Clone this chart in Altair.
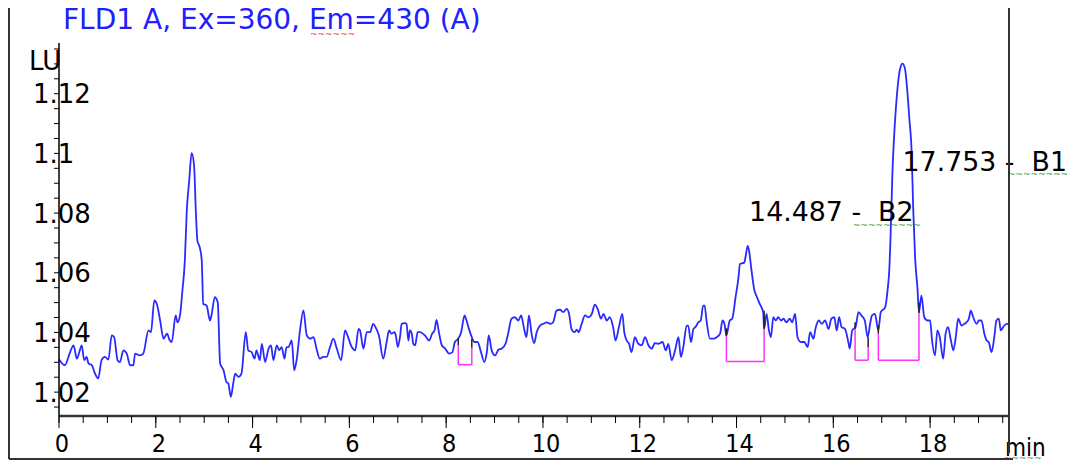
import altair as alt
import pandas as pd

# ---------------- data ----------------
time_min = [
    0.00, 0.12, 0.23, 0.30, 0.37, 0.43, 0.47, 0.52, 0.57, 0.61, 0.68, 0.73, 0.78, 0.81, 0.88, 0.95,
    1.02, 1.09, 1.14, 1.21, 1.26, 1.33, 1.40, 1.47, 1.54, 1.57, 1.67, 1.74, 1.85, 1.90, 1.97,
    2.02, 2.09, 2.16, 2.23, 2.29, 2.33, 2.41, 2.45, 2.50, 2.55, 2.60, 2.64, 2.69, 2.74, 2.79,
    2.83, 2.86, 2.91, 2.95, 2.98, 3.05, 3.12, 3.15, 3.22, 3.28, 3.33, 3.40, 3.46, 3.50, 3.55,
    3.60, 3.64, 3.71, 3.77, 3.86, 3.91, 3.98, 4.04, 4.08, 4.15, 4.19, 4.26, 4.33, 4.38, 4.43,
    4.50, 4.55, 4.60, 4.66, 4.70, 4.74, 4.81, 4.86, 4.91, 4.98, 5.05, 5.12, 5.19, 5.26, 5.32,
    5.39, 5.46, 5.53, 5.60, 5.67, 5.74, 5.83, 5.91, 5.96, 6.05, 6.12, 6.19, 6.22, 6.29, 6.36,
    6.43, 6.49, 6.54, 6.61, 6.70, 6.77, 6.82, 6.87, 6.93, 6.96, 7.00, 7.05, 7.08, 7.15, 7.18,
    7.22, 7.25, 7.29, 7.32, 7.36, 7.41, 7.46, 7.56, 7.65, 7.71, 7.76, 7.80, 7.85, 7.91, 7.98,
    8.06, 8.13, 8.18, 8.25, 8.31, 8.38, 8.42, 8.47, 8.53, 8.58, 8.65, 8.72, 8.79, 8.84, 8.88,
    8.94, 9.01, 9.08, 9.15, 9.23, 9.28, 9.35, 9.42, 9.49, 9.55, 9.61, 9.66, 9.71, 9.77, 9.82,
    9.87, 9.94, 10.01, 10.08, 10.15, 10.21, 10.28, 10.35, 10.42, 10.49, 10.54, 10.59, 10.65,
    10.70, 10.74, 10.80, 10.87, 10.94, 11.01, 11.07, 11.13, 11.20, 11.25, 11.32, 11.38, 11.45,
    11.50, 11.57, 11.64, 11.68, 11.73, 11.78, 11.83, 11.90, 11.97, 12.04, 12.11, 12.18, 12.25,
    12.31, 12.38, 12.47, 12.54, 12.59, 12.66, 12.73, 12.80, 12.85, 12.90, 12.97, 13.00, 13.06,
    13.11, 13.15, 13.21, 13.26, 13.31, 13.34, 13.38, 13.45, 13.52, 13.59, 13.66, 13.71, 13.75,
    13.79, 13.86, 13.91, 13.98, 14.04, 14.07, 14.10, 14.16, 14.19, 14.23, 14.26, 14.31, 14.37,
    14.41, 14.48, 14.55, 14.57, 14.62, 14.67, 14.71, 14.76, 14.81, 14.86, 14.92, 14.97, 15.03,
    15.10, 15.15, 15.21, 15.26, 15.33, 15.40, 15.47, 15.52, 15.59, 15.63, 15.70, 15.76, 15.83,
    15.90, 15.96, 16.02, 16.07, 16.12, 16.17, 16.24, 16.31, 16.34, 16.39, 16.46, 16.52, 16.58,
    16.65, 16.71, 16.76, 16.80, 16.86, 16.93, 16.98, 17.07, 17.12, 17.16, 17.18, 17.22, 17.27,
    17.32, 17.38, 17.43, 17.48, 17.53, 17.57, 17.62, 17.65, 17.69, 17.74, 17.77, 17.82, 17.88,
    17.95, 18.00, 18.04, 18.10, 18.15, 18.20, 18.27, 18.32, 18.37, 18.43, 18.48, 18.53, 18.58,
    18.65, 18.71, 18.75, 18.80, 18.84, 18.89, 18.96, 19.01, 19.06, 19.12, 19.17, 19.21, 19.27,
    19.33, 19.37, 19.42, 19.46, 19.51, 19.58, 19.63,
]
signal_lu = [
    1.0310, 1.0290, 1.0334, 1.0357, 1.0312, 1.0340, 1.0357, 1.0307, 1.0318, 1.0296, 1.0290, 1.0268, 1.0251, 1.0246, 1.0307, 1.0318,
    1.0309, 1.0390, 1.0384, 1.0307, 1.0301, 1.0340, 1.0329, 1.0290, 1.0290, 1.0329, 1.0323, 1.0329, 1.0407, 1.0401, 1.0507,
    1.0496, 1.0440, 1.0379, 1.0396, 1.0373, 1.0368, 1.0457, 1.0434, 1.0457, 1.0540, 1.0640, 1.0807, 1.0907, 1.1001, 1.0962,
    1.0796, 1.0707, 1.0684, 1.0640, 1.0496, 1.0490, 1.0440, 1.0457, 1.0518, 1.0501, 1.0296, 1.0273, 1.0234, 1.0229, 1.0184,
    1.0229, 1.0262, 1.0251, 1.0262, 1.0401, 1.0340, 1.0334, 1.0312, 1.0340, 1.0307, 1.0362, 1.0301, 1.0346, 1.0357, 1.0307,
    1.0357, 1.0340, 1.0351, 1.0312, 1.0351, 1.0351, 1.0373, 1.0273, 1.0307, 1.0407, 1.0474, 1.0390, 1.0379, 1.0384, 1.0346,
    1.0312, 1.0318, 1.0318, 1.0351, 1.0379, 1.0346, 1.0307, 1.0407, 1.0390, 1.0351, 1.0340, 1.0412, 1.0407, 1.0346, 1.0401,
    1.0401, 1.0429, 1.0418, 1.0390, 1.0312, 1.0368, 1.0407, 1.0396, 1.0401, 1.0390, 1.0351, 1.0390, 1.0429, 1.0431, 1.0429,
    1.0373, 1.0407, 1.0396, 1.0362, 1.0357, 1.0401, 1.0401, 1.0390, 1.0373, 1.0396, 1.0407, 1.0442, 1.0401, 1.0357, 1.0346,
    1.0329, 1.0334, 1.0368, 1.0379, 1.0401, 1.0457, 1.0440, 1.0412, 1.0384, 1.0368, 1.0368, 1.0334, 1.0301, 1.0334, 1.0390,
    1.0340, 1.0323, 1.0342, 1.0346, 1.0364, 1.0396, 1.0446, 1.0451, 1.0440, 1.0457, 1.0412, 1.0384, 1.0457, 1.0390, 1.0364,
    1.0401, 1.0423, 1.0429, 1.0434, 1.0429, 1.0434, 1.0473, 1.0476, 1.0468, 1.0479, 1.0462, 1.0412, 1.0401,
    1.0409, 1.0401, 1.0429, 1.0457, 1.0451, 1.0462, 1.0493, 1.0479, 1.0446, 1.0462, 1.0440, 1.0451, 1.0418,
    1.0373, 1.0418, 1.0462, 1.0401, 1.0373, 1.0362, 1.0334, 1.0384, 1.0362, 1.0357, 1.0384, 1.0357, 1.0346,
    1.0364, 1.0362, 1.0368, 1.0340, 1.0362, 1.0307, 1.0340, 1.0384, 1.0318, 1.0351, 1.0423, 1.0423, 1.0368,
    1.0412, 1.0418, 1.0434, 1.0440, 1.0490, 1.0490, 1.0440, 1.0379, 1.0379, 1.0384, 1.0396, 1.0440, 1.0429,
    1.0390, 1.0440, 1.0446, 1.0518, 1.0584, 1.0629, 1.0631, 1.0634, 1.0657, 1.0690, 1.0673, 1.0607, 1.0540,
    1.0523, 1.0496, 1.0468, 1.0412, 1.0462, 1.0407, 1.0384, 1.0451, 1.0440, 1.0451, 1.0440, 1.0446, 1.0434,
    1.0446, 1.0434, 1.0462, 1.0384, 1.0368, 1.0368, 1.0351, 1.0401, 1.0379, 1.0412, 1.0440, 1.0429, 1.0440,
    1.0412, 1.0446, 1.0451, 1.0407, 1.0451, 1.0418, 1.0412, 1.0368, 1.0346, 1.0407, 1.0418, 1.0468, 1.0457,
    1.0440, 1.0384, 1.0429, 1.0457, 1.0462, 1.0407, 1.0468, 1.0484, 1.0540, 1.0620, 1.0707, 1.0929, 1.1096,
    1.1207, 1.1284, 1.1301, 1.1284, 1.1207, 1.1118, 1.0996, 1.0818, 1.0650, 1.0545, 1.0468, 1.0523, 1.0451,
    1.0440, 1.0440, 1.0373, 1.0323, 1.0407, 1.0384, 1.0312, 1.0396, 1.0418, 1.0373, 1.0340, 1.0384, 1.0446,
    1.0423, 1.0429, 1.0434, 1.0446, 1.0473, 1.0451, 1.0429, 1.0440, 1.0440, 1.0396, 1.0373, 1.0368, 1.0334,
    1.0390, 1.0440, 1.0446, 1.0407, 1.0418, 1.0429, 1.0429,
]

# integration baselines (start / end of each peak window)
bl_start = [8.25, 13.79, 16.45, 16.93]
bl_end = [8.53, 14.57, 16.72, 17.77]
bl_floor = [1.0292, 1.0303, 1.0307, 1.0307]
bl_left_mag = [1.0357, 1.0387, 1.0412, 1.0396]
bl_left_top = [1.0381, 1.0414, 1.0434, 1.0423]
bl_right_mag = [1.0349, 1.0412, 1.0351, 1.0465]
bl_right_top = [1.0379, 1.0473, 1.0384, 1.0500]

# peak annotations
NB = "\u00a0"
peak_labels = ["17.753" + NB + "-" + NB + NB + "B1", "14.487" + NB + "-" + NB + NB + "B2"]
peak_label_time = [17.43, 14.26]
peak_label_lu = [1.0940, 1.0773]

# axis ticks and tick labels
x_ticks = [0, 0.5, 1, 1.5, 2, 2.5, 3, 3.5, 4, 4.5, 5, 5.5, 6, 6.5, 7, 7.5, 8, 8.5, 9, 9.5,
           10, 10.5, 11, 11.5, 12, 12.5, 13, 13.5, 14, 14.5, 15, 15.5, 16, 16.5, 17, 17.5,
           18, 18.5, 19, 19.5]
x_major = [0, 2, 4, 6, 8, 10, 12, 14, 16, 18]
x_major_labels = ["0", "2", "4", "6", "8", "10", "12", "14", "16", "18"]
y_ticks = [1.015, 1.02, 1.025, 1.03, 1.035, 1.04, 1.045, 1.05, 1.055, 1.06, 1.065, 1.07,
           1.075, 1.08, 1.085, 1.09, 1.095, 1.1, 1.105, 1.11, 1.115, 1.12, 1.125, 1.13, 1.135]
y_major = [1.02, 1.04, 1.06, 1.08, 1.1, 1.12]
y_major_labels = ["1.02", "1.04", "1.06", "1.08", "1.1", "1.12"]

title_text = "FLD1 A, Ex=360, Em=430 (A)"
x_unit = "min"
y_unit = "LU"

# ---------------- chart ----------------
W, H = 950, 373
xs = alt.Scale(domain=[0, 19.63], nice=False, zero=False)
ys = alt.Scale(domain=[1.012, 1.137], nice=False, zero=False)


def X(field):
    return alt.X(field, type="quantitative", scale=xs, axis=None)


def Y(field):
    return alt.Y(field, type="quantitative", scale=ys, axis=None)


one = pd.DataFrame({"k": [0]})
trace_df = pd.DataFrame({"t": time_min, "v": signal_lu})

trace = alt.Chart(trace_df).mark_line(
    color="#2a2aff", strokeWidth=1.8, interpolate="monotone"
).encode(x=X("t"), y=Y("v"))

# --- axes drawn by hand from the tick arrays ---
x_band = alt.Chart(one).mark_rule(color="#cfcfcf", strokeWidth=4).encode(
    x=alt.value(0), x2=alt.value(W), y=alt.value(H))
x_dom = alt.Chart(one).mark_rule(color="black", strokeWidth=1.3).encode(
    x=alt.value(0), x2=alt.value(W), y=alt.value(H))
y_dom = alt.Chart(one).mark_rule(color="black", strokeWidth=1.5).encode(
    x=alt.value(0), y=alt.value(0), y2=alt.value(H))
x_minor = alt.Chart(pd.DataFrame({"t": x_ticks})).mark_rule(color="black", strokeWidth=1).encode(
    x=X("t"), y=alt.value(H), y2=alt.value(H + 7))
x_maj = alt.Chart(pd.DataFrame({"t": x_major})).mark_rule(color="black", strokeWidth=1).encode(
    x=X("t"), y=alt.value(H), y2=alt.value(H + 12))
y_tk = alt.Chart(pd.DataFrame({"v": y_ticks})).mark_rule(color="black", strokeWidth=1).encode(
    y=Y("v"), x=alt.value(-5), x2=alt.value(0))
x_lab = alt.Chart(pd.DataFrame({"t": x_major, "lab": x_major_labels})).mark_text(
    align="center", baseline="alphabetic", dx=3,
    font="Liberation Sans Narrow, DejaVu Sans Condensed, Liberation Sans", fontSize=25, color="black"
).encode(x=X("t"), y=alt.value(H + 36), text="lab:N")
y_lab = alt.Chart(pd.DataFrame({"v": y_major, "lab": y_major_labels})).mark_text(
    align="left", baseline="alphabetic", dy=9.5,
    font="DejaVu Sans", fontSize=26, color="black"
).encode(y=Y("v"), x=alt.value(-26), text="lab:N")

# --- integration baselines ---
bl_df = pd.DataFrame({"s": bl_start, "e": bl_end, "f": bl_floor,
                      "lm": bl_left_mag, "lt": bl_left_top,
                      "rm": bl_right_mag, "rt": bl_right_top})
mag = "#ff30ff"
bl_bottom = alt.Chart(bl_df).mark_rule(color=mag, strokeWidth=1.5).encode(
    x=X("s"), x2="e", y=Y("f"))
bl_left = alt.Chart(bl_df).mark_rule(color=mag, strokeWidth=1.5).encode(
    x=X("s"), y=Y("f"), y2="lm")
bl_right = alt.Chart(bl_df).mark_rule(color=mag, strokeWidth=1.5).encode(
    x=X("e"), y=Y("f"), y2="rm")
bl_left_k = alt.Chart(bl_df).mark_rule(color="#222222", strokeWidth=1.5).encode(
    x=X("s"), y=Y("lm"), y2="lt")
bl_right_k = alt.Chart(bl_df).mark_rule(color="#222222", strokeWidth=1.5).encode(
    x=X("e"), y=Y("rm"), y2="rt")

labels = alt.Chart(pd.DataFrame({"t": peak_label_time, "v": peak_label_lu, "txt": peak_labels})).mark_text(
    align="left", baseline="alphabetic", font="DejaVu Sans", fontSize=26.8, color="black"
).encode(x=X("t"), y=Y("v"), text="txt:N")

title = alt.Chart(one).mark_text(
    text=title_text, align="left", baseline="alphabetic",
    font="DejaVu Sans", fontSize=28, color="#2020ff"
).encode(x=alt.value(4), y=alt.value(-14.5))
lu = alt.Chart(one).mark_text(
    text=y_unit, align="left", baseline="middle", font="DejaVu Sans", fontSize=26, color="black"
).encode(x=alt.value(-30), y=alt.value(18.5))
mn = alt.Chart(one).mark_text(
    text=x_unit, align="left", baseline="alphabetic",
    font="Liberation Sans Narrow, DejaVu Sans Condensed, Liberation Sans", fontSize=24, color="black"
).encode(x=alt.value(946), y=alt.value(413))


def squiggle(n, px, py, color):
    return alt.Chart(one).mark_text(
        text="~" * n, align="left", baseline="middle", font="DejaVu Sans",
        fontSize=9, color=color
    ).encode(x=alt.value(px), y=alt.value(py))


sq = [
    squiggle(6, 251, -9, "#e04040"),
    squiggle(9, 794, 182, "#3c9a3c"),
    squiggle(9, 949, 131, "#3c9a3c"),
    squiggle(5, 945, 415, "#3c9a3c"),
]

frame_c = "#333333"
frame = [
    alt.Chart(one).mark_rule(color=frame_c, strokeWidth=2).encode(
        x=alt.value(-50), y=alt.value(-35), y2=alt.value(416)),
    alt.Chart(one).mark_rule(color=frame_c, strokeWidth=2).encode(
        x=alt.value(W), y=alt.value(-35), y2=alt.value(410)),
    alt.Chart(one).mark_rule(color=frame_c, strokeWidth=2).encode(
        x=alt.value(-50), x2=alt.value(W + 4), y=alt.value(416)),
]

chart = alt.layer(
    trace, bl_bottom, bl_left, bl_right, bl_left_k, bl_right_k,
    labels, title, lu, mn, x_lab, y_lab, *sq,
    x_band, x_dom, x_minor, x_maj, y_tk, y_dom, *frame
).properties(
    width=W, height=H,
    padding={"left": 51, "top": 35, "right": 59, "bottom": 44},
    autosize=alt.AutoSizeParams(type="none"),
    background="white",
).configure_view(stroke=None)

chart.save("out.html", embed_options={"renderer": "svg", "actions": False})
